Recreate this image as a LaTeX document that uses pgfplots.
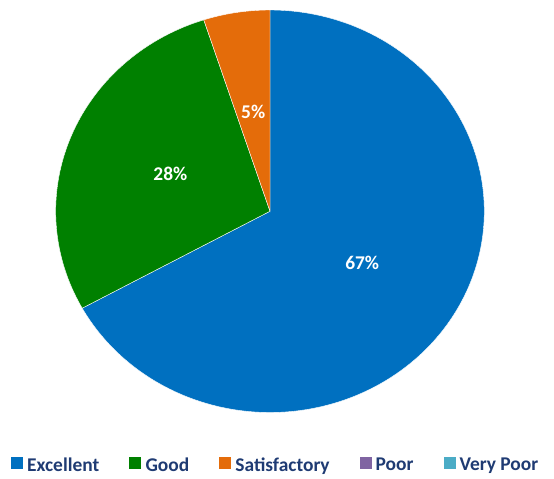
\documentclass[border=0pt]{standalone}
\usepackage{fontspec}
\setmainfont{Carlito}
\usepackage{pgfplots}
\pgfplotsset{compat=1.18}
\definecolor{cExc}{HTML}{0070C0}
\definecolor{cGood}{HTML}{008000}
\definecolor{cSat}{HTML}{E46C0A}
\definecolor{cPoor}{HTML}{8064A2}
\definecolor{cVP}{HTML}{4BACC6}
\definecolor{legtext}{HTML}{1F3B73}
% data (percent)
\def\vExc{67}
\def\vGood{28}
\def\vSat{5}
\def\vPoor{0}
\def\vVP{0}
\pgfmathsetmacro{\aA}{90}
\pgfmathsetmacro{\aB}{\aA-\vExc*3.6}
\pgfmathsetmacro{\aC}{\aB-\vGood*3.6}
\pgfmathsetmacro{\aD}{\aC-\vSat*3.6}
\pgfmathsetmacro{\mA}{(\aA+\aB)/2}
\pgfmathsetmacro{\mB}{(\aB+\aC)/2}
\pgfmathsetmacro{\mC}{(\aC+\aD)/2}
\begin{document}
\begin{tikzpicture}
\path[use as bounding box] (0,0) rectangle (554bp,479bp);
\begin{axis}[
  at={(55.7bp,66.5bp)}, anchor=south west,
  width=428.6bp, height=402.5bp, scale only axis,
  hide axis, clip=false,
  xmin=-1, xmax=1, ymin=-1, ymax=1,
  legend columns=5,
  legend cell align=left,
  legend image code/.code={\fill[#1, draw=none] (0bp,-4bp) rectangle (12bp,8bp); \path (14bp,0bp);},
  legend style={at={(0.513,-0.13)}, anchor=center, draw=none, fill=none,
    font=\fontsize{19.5}{22}\selectfont\bfseries\color{legtext},
    inner sep=0pt, nodes={inner xsep=2bp, inner ysep=0pt},
    /tikz/every even column/.append style={column sep=28bp}},
]
\addplot[fill=cExc, draw=white, line width=0.4bp, domain=\aB:\aA, samples=240]
  ({cos(x)},{sin(x)}) -- (axis cs:0,0) -- cycle;
\addlegendentry{Excellent}
\addplot[fill=cGood, draw=white, line width=0.4bp, domain=\aC:\aB, samples=120]
  ({cos(x)},{sin(x)}) -- (axis cs:0,0) -- cycle;
\addlegendentry{Good}
\addplot[fill=cSat, draw=white, line width=0.4bp, domain=\aD:\aC, samples=30]
  ({cos(x)},{sin(x)}) -- (axis cs:0,0) -- cycle;
\addlegendentry{Satisfactory}
\addlegendimage{fill=cPoor, draw=none}
\addlegendentry{Poor}
\addlegendimage{fill=cVP, draw=none}
\addlegendentry{Very Poor}
\node[text=white, font=\fontsize{19.5}{22}\selectfont\bfseries] at (axis cs:{0.5*cos(\mA)},{0.5*sin(\mA)}) {\vExc\%};
\node[text=white, font=\fontsize{19.5}{22}\selectfont\bfseries] at (axis cs:{0.5*cos(\mB)},{0.5*sin(\mB)}) {\vGood\%};
\node[text=white, font=\fontsize{19.5}{22}\selectfont\bfseries] at (axis cs:{0.5*cos(\mC)},{0.5*sin(\mC)}) {\vSat\%};
\end{axis}
\end{tikzpicture}
\end{document}
